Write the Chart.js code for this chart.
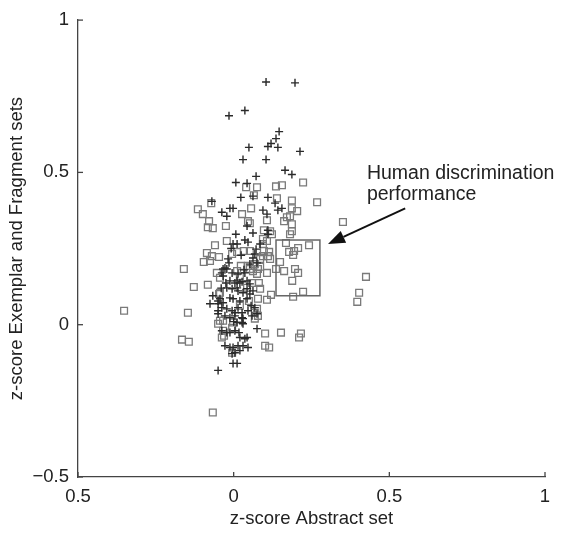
<!DOCTYPE html>
<html>
<head>
<meta charset="utf-8">
<script src="https://cdn.jsdelivr.net/npm/chart.js@4"></script>
<style>
  html, body { margin: 0; padding: 0; background: #fff; }
  #wrap { width: 572px; height: 534px; }
</style>
</head>
<body>
<div id="wrap"><canvas id="myChart" width="572" height="534"></canvas></div>
<script>
// crosses: (abstract z, exemplar/fragment z)
const crossX = [0.104,0.197,-0.015,0.036,0.146,0.136,0.120,0.110,0.142,0.049,0.213,0.030,0.104,0.165,0.187,0.072,0.007,0.043,
  0.023,0.062,0.110,0.133,-0.070,-0.012,-0.002,-0.038,-0.022,0.094,0.107,0.155,0.142,0.043,0.062,0.007,0.110,0.085,0.036,0.011,
  0.046,0.068,0.072,-0.018,-0.015,-0.028,-0.005,-0.034,-0.012,0.011,0.020,0.043,0.052,0.062,-0.022,0.011,0.043,-0.067,-0.050,
  -0.076,-0.012,0.020,-0.038,-0.022,-0.005,0.014,0.068,-0.050,-0.028,0.004,0.027,0.059,0.075,0.011,0.030,0.075,-0.038,-0.022,
  0.017,0.020,0.036,-0.028,-0.012,-0.002,0.046,0.004,-0.005,0.020,-0.002,0.011,-0.050,
  -0.038,-0.022,0.014,0.036,0.004,0.027,-0.005,0.014,0.030,-0.044,-0.050,-0.034,-0.002,0.043,-0.050,0.004,0.027,0.046,-0.012,
  0.030,0.027,-0.012,0.004,0.030,0.014,0.043,-0.002,-0.034,0.110,0.062,0.052,0.075,
  0.052,0.033,-0.025,0.056,0.000,-0.040,0.024,-0.008];
const crossY = [0.797,0.794,0.686,0.703,0.634,0.611,0.595,0.585,0.582,0.582,0.569,0.542,0.542,0.507,0.493,0.487,0.467,0.464,
  0.418,0.422,0.418,0.399,0.405,0.382,0.382,0.369,0.356,0.376,0.363,0.382,0.376,0.324,0.301,0.297,0.310,0.265,0.278,0.265,
  0.271,0.232,0.248,0.216,0.203,0.186,0.170,0.160,0.144,0.144,0.137,0.144,0.134,0.111,0.121,0.121,0.118,0.095,0.078,
  0.069,0.088,0.078,0.056,0.052,0.046,0.056,0.056,0.036,0.029,0.029,0.023,0.029,0.036,0.007,0.003,-0.013,-0.020,-0.026,
  -0.026,-0.042,-0.046,-0.069,-0.075,-0.075,-0.075,-0.092,-0.095,-0.085,-0.127,-0.127,-0.150,
  0.170,0.183,0.167,0.170,0.137,0.141,0.118,0.111,0.105,0.085,0.069,0.072,0.085,0.085,0.046,0.039,0.039,0.046,0.023,
  0.020,0.007,-0.026,-0.020,-0.069,-0.069,-0.042,0.265,0.183,0.297,0.219,0.199,0.203,
  0.101,0.180,0.137,0.062,0.010,0.120,0.228,0.250];

// squares
const squareX = [-0.352,-0.160,-0.128,-0.083,-0.147,-0.166,-0.144,-0.067,-0.115,-0.099,-0.079,-0.083,-0.067,-0.025,0.027,0.056,
  0.046,0.052,0.107,0.097,0.123,0.187,0.204,0.181,0.171,0.162,0.187,0.187,0.181,0.351,0.268,0.040,0.075,0.136,0.155,0.223,
  0.065,0.139,0.187,0.117,0.094,-0.022,-0.060,-0.086,-0.070,-0.096,-0.076,-0.047,-0.005,0.011,0.033,0.052,0.094,0.107,0.097,
  0.114,0.094,0.110,0.085,0.117,0.046,0.062,0.023,0.062,0.078,0.107,-0.054,-0.044,0.081,0.085,0.059,-0.047,0.120,0.107,0.078,
  0.049,0.075,0.078,-0.044,-0.050,-0.005,-0.031,-0.038,0.068,0.101,0.152,0.216,0.210,0.101,0.114,-0.005,
  0.168,0.207,0.242,0.178,0.194,0.191,0.149,0.136,0.162,0.197,0.207,0.188,0.223,0.191,
  0.425,0.403,0.397,-0.044,0.011,0.020,-0.034,-0.034,-0.002,0.020,0.043,0.052,0.075,0.068,0.068,0.085,-0.072];
const squareY = [0.046,0.183,0.124,0.131,0.039,-0.049,-0.056,-0.288,0.379,0.363,0.340,0.320,0.317,0.324,0.363,0.382,
  0.340,0.333,0.343,0.310,0.297,0.382,0.373,0.356,0.353,0.340,0.330,0.307,0.297,0.337,0.402,0.451,0.451,0.454,0.458,0.467,
  0.425,0.415,0.408,0.307,0.281,0.275,0.261,0.235,0.225,0.206,0.209,0.222,0.232,0.239,0.242,0.242,0.265,0.275,0.242,
  0.239,0.225,0.225,0.216,0.216,0.193,0.193,0.193,0.176,0.183,0.170,0.170,0.154,0.137,0.118,0.137,0.101,0.098,0.082,0.085,
  0.078,0.052,0.029,0.013,0.003,-0.010,-0.036,-0.042,0.020,-0.029,-0.026,-0.029,-0.042,-0.069,-0.075,-0.092,
  0.268,0.252,0.261,0.239,0.242,0.229,0.206,0.183,0.176,0.183,0.170,0.144,0.108,0.092,
  0.157,0.105,0.075,0.105,0.176,0.160,0.013,-0.020,0.007,0.062,0.121,0.183,0.167,0.039,0.199,0.190,0.399];

const xTicks = [-0.5, 0, 0.5, 1];
const xTickLabels = ['0.5', '0', '0.5', '1'];
const yTicks = [-0.5, 0, 0.5, 1];
const yTickLabels = ['\u22120.5', '0', '0.5', '1'];

// annotation: box, arrow, text (data units)
const boxX = [0.136, 0.277];
const boxY = [0.095, 0.278];
const arrowFrom = [0.551, 0.382];
const arrowTo = [0.303, 0.265];
const noteAt = [0.428, 0.497];
const noteLines = ['Human discrimination', 'performance'];

const FONT = '"Liberation Sans", Arial, sans-serif';

function toPoints(xs, ys){
    return xs.map((x, i) => ({x: x, y: ys[i]}));
}

const extras = {
    id: 'extras',
    afterDatasetsDraw(chart){
        const c = chart.ctx;
        const xs = chart.scales.x, ys = chart.scales.y;
        const area = chart.chartArea;
        c.save();
        // inward ticks
        c.strokeStyle = '#444';
        c.lineWidth = 1.3;
        xTicks.forEach(v => {
            const px = xs.getPixelForValue(v);
            c.beginPath(); c.moveTo(px, area.bottom); c.lineTo(px, area.bottom - 5); c.stroke();
        });
        yTicks.forEach(v => {
            const py = ys.getPixelForValue(v);
            c.beginPath(); c.moveTo(area.left, py); c.lineTo(area.left + 5, py); c.stroke();
        });
        // box
        c.strokeStyle = '#666';
        c.lineWidth = 1.5;
        const bx0 = xs.getPixelForValue(boxX[0]), bx1 = xs.getPixelForValue(boxX[1]);
        const by0 = ys.getPixelForValue(boxY[1]), by1 = ys.getPixelForValue(boxY[0]);
        c.strokeRect(bx0, by0, bx1 - bx0, by1 - by0);
        // arrow
        const ax0 = xs.getPixelForValue(arrowFrom[0]), ay0 = ys.getPixelForValue(arrowFrom[1]);
        const ax1 = xs.getPixelForValue(arrowTo[0]), ay1 = ys.getPixelForValue(arrowTo[1]);
        const ang = Math.atan2(ay1 - ay0, ax1 - ax0);
        const head = 17, half = 6.5;
        const hx = ax1 - head * Math.cos(ang), hy = ay1 - head * Math.sin(ang);
        c.strokeStyle = '#111';
        c.fillStyle = '#111';
        c.lineWidth = 2;
        c.beginPath(); c.moveTo(ax0, ay0); c.lineTo(hx, hy); c.stroke();
        c.beginPath();
        c.moveTo(ax1, ay1);
        c.lineTo(hx + half * Math.sin(ang), hy - half * Math.cos(ang));
        c.lineTo(hx - half * Math.sin(ang), hy + half * Math.cos(ang));
        c.closePath(); c.fill();
        // note text
        c.fillStyle = '#222';
        c.font = '19.5px ' + FONT;
        c.textAlign = 'left';
        c.textBaseline = 'middle';
        const tx = xs.getPixelForValue(noteAt[0]), ty = ys.getPixelForValue(noteAt[1]);
        noteLines.forEach((t, i) => c.fillText(t, tx, ty + i * 21));
        c.restore();
    }
};

const ctx = document.getElementById('myChart');
new Chart(ctx, {
    type: 'scatter',
    data: {
        datasets: [{
            label: 'cross',
            data: toPoints(crossX, crossY),
            pointStyle: 'cross',
            pointRadius: 4,
            borderColor: '#2a2a2a',
            borderWidth: 1.4,
            order: 0
        }, {
            label: 'square',
            data: toPoints(squareX, squareY),
            pointStyle: 'rect',
            pointRadius: 4.8,
            borderColor: '#7a7a7a',
            backgroundColor: 'rgba(0,0,0,0)',
            borderWidth: 1.3,
            order: 1
        }]
    },
    options: {
        responsive: false,
        animation: false,
        events: [],
        layout: { padding: { top: 18, right: 27, left: 0, bottom: 0 } },
        plugins: { legend: { display: false }, tooltip: { enabled: false } },
        scales: {
            x: {
                type: 'linear', min: -0.5, max: 1,
                afterBuildTicks: s => { s.ticks = xTicks.map(v => ({value: v})); },
                afterFit: s => { s.height = 57; },
                grid: { display: false, drawTicks: false },
                border: { display: true, color: '#444', width: 1.3 },
                ticks: {
                    padding: 9, color: '#222', font: { family: FONT, size: 18.5 },
                    callback: (v, i) => xTickLabels[i]
                },
                title: { display: true, text: 'z-score Abstract set', color: '#222',
                    font: { family: FONT, size: 18.5 }, padding: { top: 0, bottom: 4 } }
            },
            y: {
                type: 'linear', min: -0.5, max: 1,
                afterBuildTicks: s => { s.ticks = yTicks.map(v => ({value: v})); },
                afterFit: s => { s.width = 78; },
                grid: { display: false, drawTicks: false },
                border: { display: true, color: '#444', width: 1.3 },
                ticks: {
                    padding: 9, color: '#222', font: { family: FONT, size: 18.5 },
                    callback: (v, i) => yTickLabels[i]
                },
                title: { display: true, text: 'z-score Exemplar and Fragment sets', color: '#222',
                    font: { family: FONT, size: 18.5 }, padding: { top: 6, bottom: 0 } }
            }
        }
    },
    plugins: [extras]
});
</script>
</body>
</html>
